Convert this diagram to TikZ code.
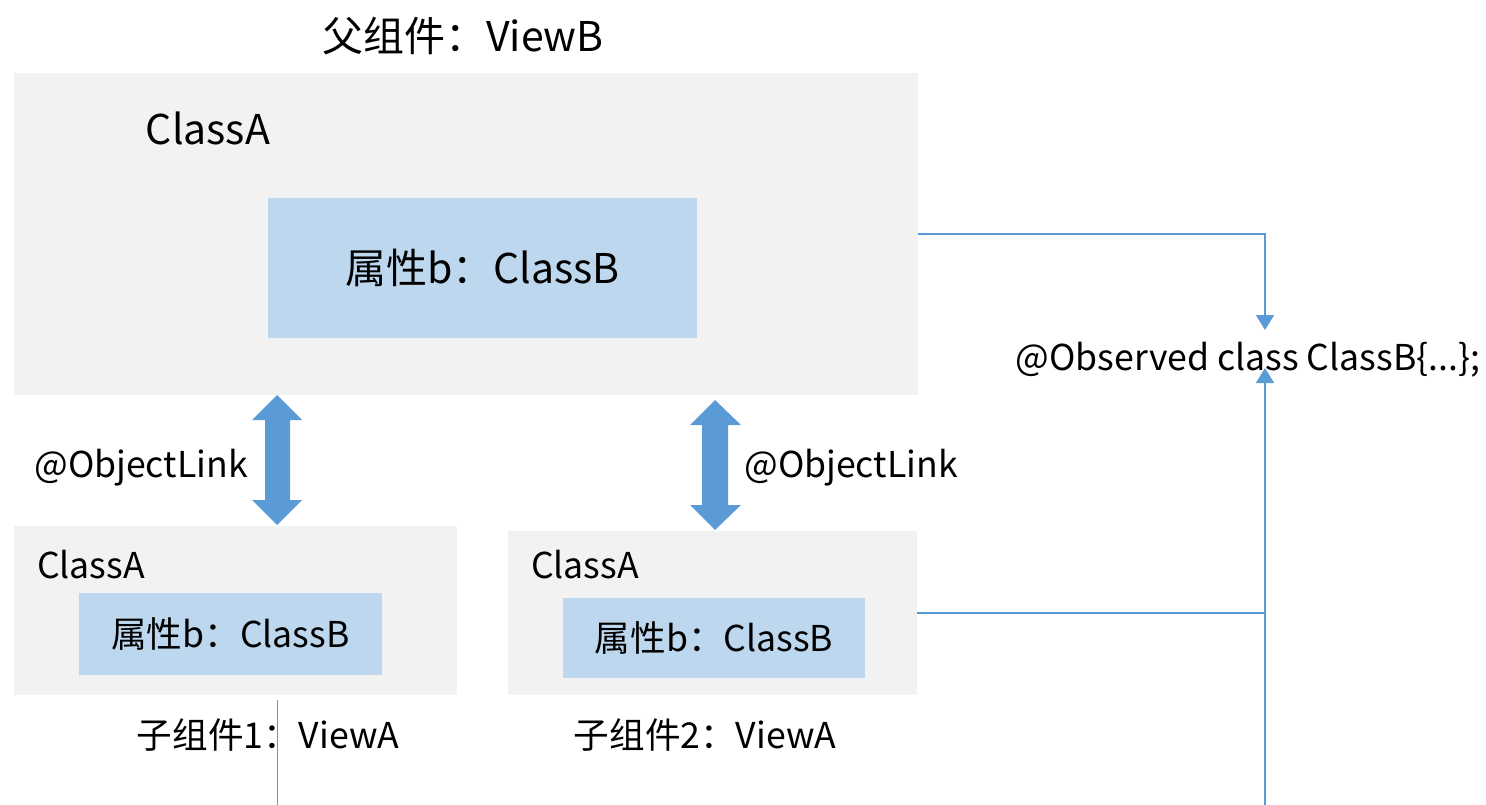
\documentclass[tikz,border=0pt]{standalone}
\usepackage{fontspec}
\setmainfont{Noto Sans CJK SC}
\usetikzlibrary{arrows.meta}
\definecolor{boxgray}{HTML}{F2F2F2}
\definecolor{boxblue}{HTML}{BDD7EE}
\definecolor{lineblue}{HTML}{5B9BD5}
\tikzset{
  graybox/.style={fill=boxgray, draw=none, inner sep=0pt},
  bluebox/.style={fill=boxblue, draw=none, inner sep=0pt},
  lbl/.style={inner sep=0pt, text=black},
  big/.style={font=\fontsize{41}{48}\selectfont},
  mid/.style={font=\fontsize{35.6}{42}\selectfont},
  conn/.style={draw=lineblue, line width=2pt},
  tipa/.style={-{Triangle[width=18pt,length=15pt]}},
  dblarrow/.style={fill=lineblue, draw=none}
}
\begin{document}
\begin{tikzpicture}[x=1pt,y=-1pt]
\useasboundingbox (0,0) rectangle (1486,805);
% title
\node[lbl, big] (title) at (463,36) {父组件：ViewB};
% main box
\node[graybox, minimum width=904pt, minimum height=322pt] (main) at (466,234) {};
\node[lbl, big] (mainA) at (208,128) {ClassA};
\node[bluebox, big, minimum width=429pt, minimum height=140pt] (mainB) at (482.5,268) {属性b：ClassB};
% child boxes
\node[graybox, minimum width=443pt, minimum height=169pt] (c1) at (235.5,610.5) {};
\node[lbl, mid] (c1A) at (91,565) {ClassA};
\node[bluebox, mid, minimum width=303pt, minimum height=82pt] (c1B) at (230.5,634) {属性b：ClassB};
\node[graybox, minimum width=409pt, minimum height=164pt] (c2) at (712.5,613) {};
\node[lbl, mid] (c2A) at (585,565) {ClassA};
\node[bluebox, mid, minimum width=302pt, minimum height=80pt] (c2B) at (714,638) {属性b：ClassB};
% child labels
\node[lbl, mid] (c1lbl) at (268,735) {子组件1：ViewA};
\node[lbl, mid] (c2lbl) at (705,735) {子组件2：ViewA};
% objectlink labels
\node[lbl, mid] (ol1) at (141,468) {@ObjectLink};
\node[lbl, mid] (ol2) at (851,468) {@ObjectLink};
% observed text
\node[lbl, mid] (obs) at (1248,360) {@Observed class ClassB\{...\};};
% double arrows
\fill[dblarrow] (277,395) -- (302,420) -- (290,420) -- (290,500) -- (302,500) -- (277,525) -- (252,500) -- (265,500) -- (265,420) -- (252,420) -- cycle;
\fill[dblarrow] (715,400) -- (741,425) -- (728,425) -- (728,505) -- (741,505) -- (715,530) -- (690,505) -- (702,505) -- (702,425) -- (690,425) -- cycle;
% connectors
\coordinate (obsTop) at (1265,330);
\coordinate (obsBot) at (1265,368);
\coordinate (bottomEnd) at (1265,805);
\coordinate (c1lineTop) at (277,700);
\coordinate (c1lineBot) at (277,805);
\draw[conn, tipa] (main.east) -| (obsTop);
\draw[conn] (c2.east) -| (1265,613);
\draw[conn, tipa, line width=1.5pt] (bottomEnd) -- (obsBot);
\draw[draw=lineblue, line width=0.8pt] (c1lineTop) -- (c1lineBot);
\end{tikzpicture}
\end{document}
